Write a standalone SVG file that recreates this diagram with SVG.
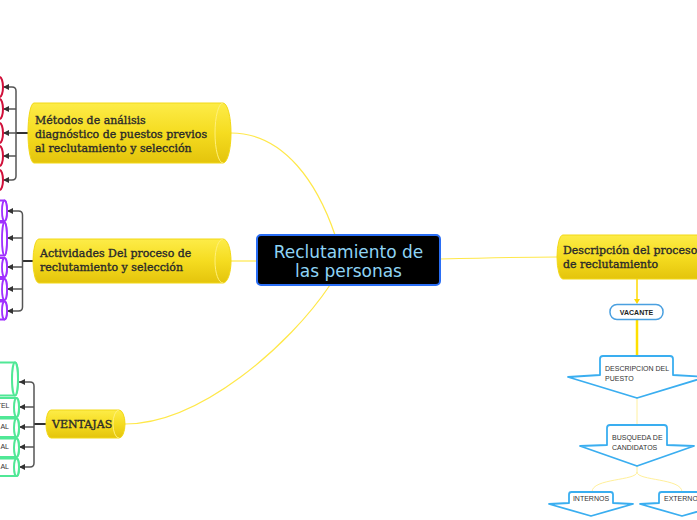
<svg xmlns="http://www.w3.org/2000/svg" width="697" height="520" viewBox="0 0 697 520">
<defs>
<linearGradient id="yg" x1="0" y1="0" x2="0" y2="1">
<stop offset="0" stop-color="#fdec48"/>
<stop offset="0.5" stop-color="#f5dc20"/>
<stop offset="1" stop-color="#e4c40c"/>
</linearGradient>
<marker id="ah" viewBox="0 0 7 7" refX="7" refY="3.5" markerWidth="6" markerHeight="6" markerUnits="userSpaceOnUse" orient="auto">
<path d="M0,0 L7,3.5 L0,7 Z" fill="#333"/>
</marker>
</defs>
<style>
.yn{fill:url(#yg);stroke:#f2d816;stroke-width:1}
.cap{fill:none;stroke:#fff07a;stroke-width:1}
.yt{font-family:"DejaVu Serif","Liberation Serif",serif;font-size:11px;fill:#2a2a2a;stroke:#2a2a2a;stroke-width:0.35}
.br{fill:none;stroke:#555;stroke-width:1.5}
.arr{fill:none;stroke:#555;stroke-width:1.5;marker-end:url(#ah)}
.lk{fill:none;stroke:#333;stroke-width:2}
.yc{fill:none;stroke:#ffe84a;stroke-width:1.2}
.fl{fill:#fff;stroke:#3aaef0;stroke-width:1.8;stroke-linejoin:round}
.ft{font-family:"Liberation Sans","DejaVu Sans",sans-serif;font-size:7px;fill:#333}
.red{fill:#fff;stroke:#d0103a;stroke-width:2}
.pur{fill:#fff;stroke:#a030ff;stroke-width:1.8}
.grn{fill:#fff;stroke:#50e896;stroke-width:2}
</style>

<g id="connectors">
<path class="yc" d="M231,133 C285,133 318,185 335,235"/>
<path class="yc" d="M231,261 H257"/>
<path class="yc" d="M125,424 C200,424 290,345 330,285"/>
<path class="yc" d="M440,259 C480,258 520,257 557,257"/>
<path d="M637,279 V302" fill="none" stroke="#ffd800" stroke-width="1.5"/>
<path d="M634,299 L640,299 L637,304 Z" fill="#ffd800"/>
<path d="M637,319 V356" fill="none" stroke="#ffe000" stroke-width="2.5"/>
<path d="M637,398 V425" fill="none" stroke="#fff0a0" stroke-width="1"/>
<path d="M637,466 V472 C637,481 592,478 592,492" fill="none" stroke="#fff09a" stroke-width="1"/>
<path d="M637,472 C637,481 682,478 682,492" fill="none" stroke="#fff09a" stroke-width="1"/>
<path class="lk" d="M28,133 H16"/>
<path class="br" d="M16,91 V176"/>
<path class="arr" d="M16,91 Q16,87 12,87 H3"/>
<path class="arr" d="M16,109 H3"/>
<path class="arr" d="M16,133 H3"/>
<path class="arr" d="M16,156 H3"/>
<path class="arr" d="M16,176 Q16,180 12,180 H3"/>
<path class="lk" d="M33,261 H22.5"/>
<path class="br" d="M22.5,215 V307"/>
<path class="arr" d="M22.5,215 Q22.5,211 18.5,211 H7"/>
<path class="arr" d="M22.5,238 H7"/>
<path class="arr" d="M22.5,267 H7"/>
<path class="arr" d="M22.5,289 H7"/>
<path class="arr" d="M22.5,307 Q22.5,311 18.5,311 H7"/>
<path class="lk" d="M46,424 H34"/>
<path class="br" d="M34,386 V463"/>
<path class="arr" d="M34,386 Q34,382 30,382 H19"/>
<path class="arr" d="M34,407 H19"/>
<path class="arr" d="M34,427 H19"/>
<path class="arr" d="M34,447 H19"/>
<path class="arr" d="M34,463 Q34,467 30,467 H19"/>
</g>

<g id="central">
<rect x="257" y="235" width="183" height="50" rx="4" fill="#000" stroke="#2a6ef5" stroke-width="2"/>
<text x="348.5" y="258" text-anchor="middle" font-family="DejaVu Sans, sans-serif" font-size="17" fill="#8fd4f5">Reclutamiento de</text>
<text x="348.5" y="277" text-anchor="middle" font-family="DejaVu Sans, sans-serif" font-size="17" fill="#8fd4f5">las personas</text>
</g>

<g id="metodos">
<path class="yn" d="M34,103 H223 A8,30 0 0 1 223,163 H34 A6,30 0 0 1 34,103 Z"/>
<path class="cap" d="M223,103 A8,30 0 0 0 223,163"/>
<text class="yt" x="35" y="124">Métodos de análisis</text>
<text class="yt" x="35" y="138">diagnóstico de puestos previos</text>
<text class="yt" x="35" y="152">al reclutamiento y selección</text>
</g>

<g id="actividades">
<path class="yn" d="M39,239 H223 A8,22 0 0 1 223,283 H39 A6,22 0 0 1 39,239 Z"/>
<path class="cap" d="M223,239 A8,22 0 0 0 223,283"/>
<text class="yt" x="40" y="257">Actividades Del proceso de</text>
<text class="yt" x="40" y="271">reclutamiento y selección</text>
</g>

<g id="ventajas">
<path class="yn" d="M51,410 H119 A6,14 0 0 1 119,438 H51 A5,14 0 0 1 51,410 Z"/>
<path class="cap" d="M119,410 A6,14 0 0 0 119,438"/>
<text class="yt" x="52" y="428">VENTAJAS</text>
</g>

<g id="descripcion-proceso">
<path class="yn" d="M563,235 H760 V279 H563 A6,22 0 0 1 563,235 Z"/>
<text class="yt" x="563" y="254">Descripción del proceso</text>
<text class="yt" x="563" y="268">de reclutamiento</text>
</g>

<g id="metodos-hijos">
<ellipse class="red" cx="-0.5" cy="87" rx="3.5" ry="10"/>
<ellipse class="red" cx="-0.5" cy="109" rx="3.5" ry="10"/>
<ellipse class="red" cx="-0.5" cy="133" rx="3.5" ry="10"/>
<ellipse class="red" cx="-0.5" cy="156" rx="3.5" ry="10"/>
<ellipse class="red" cx="-0.5" cy="180" rx="3.5" ry="10"/>
</g>

<g id="actividades-hijos">
<path class="pur" d="M-10,200.5 H4.5 A2.5,10.25 0 0 1 4.5,221 H-10 Z"/>
<ellipse class="pur" cx="4.5" cy="210.75" rx="2.5" ry="10.25"/>
<path class="pur" d="M-10,222.5 H4.5 A2.5,16.5 0 0 1 4.5,255.5 H-10 Z"/>
<ellipse class="pur" cx="4.5" cy="239" rx="2.5" ry="16.5"/>
<path class="pur" d="M-10,258 H4.5 A2.5,9.5 0 0 1 4.5,277 H-10 Z"/>
<ellipse class="pur" cx="4.5" cy="267.5" rx="2.5" ry="9.5"/>
<path class="pur" d="M-10,279 H4.5 A2.5,10.5 0 0 1 4.5,300 H-10 Z"/>
<ellipse class="pur" cx="4.5" cy="289.5" rx="2.5" ry="10.5"/>
<path class="pur" d="M-10,301.5 H4.5 A2.5,9 0 0 1 4.5,319.5 H-10 Z"/>
<ellipse class="pur" cx="4.5" cy="310.5" rx="2.5" ry="9"/>
</g>

<g id="ventajas-hijos">
<path class="grn" d="M-10,362.5 H15 A3,16.5 0 0 1 15,395.5 H-10 Z"/>
<ellipse class="grn" cx="15" cy="379" rx="3" ry="16.5"/>
<path class="grn" d="M-10,398 H16.5 A2.5,9.5 0 0 1 16.5,417 H-10 Z"/>
<ellipse class="grn" cx="16.5" cy="407.5" rx="2.5" ry="9.5"/>
<path class="grn" d="M-10,418.5 H16.5 A2.5,9.25 0 0 1 16.5,437 H-10 Z"/>
<ellipse class="grn" cx="16.5" cy="427.75" rx="2.5" ry="9.25"/>
<path class="grn" d="M-10,438.5 H16.5 A2.5,9.25 0 0 1 16.5,457 H-10 Z"/>
<ellipse class="grn" cx="16.5" cy="447.75" rx="2.5" ry="9.25"/>
<path class="grn" d="M-10,458.5 H16.5 A2.5,8.75 0 0 1 16.5,476 H-10 Z"/>
<ellipse class="grn" cx="16.5" cy="467.25" rx="2.5" ry="8.75"/>
<text class="ft" x="9.5" y="408" text-anchor="end">TEL</text>
<text class="ft" x="9" y="429" text-anchor="end">AL</text>
<text class="ft" x="9" y="449" text-anchor="end">AL</text>
<text class="ft" x="9" y="469" text-anchor="end">AL</text>
</g>

<g id="vacante">
<rect x="610" y="304.5" width="53" height="15" rx="7" fill="#fff" stroke="#4aa0e0" stroke-width="1.5"/>
<text x="636.5" y="314.5" text-anchor="middle" font-family="Liberation Sans, sans-serif" font-size="7" font-weight="bold" fill="#222">VACANTE</text>
</g>

<g id="descripcion-puesto">
<path class="fl" d="M600,359 Q600,356 603,356 H670 Q673,356 673,359 V375 L706,377 L637,398 L568,377 L600,375 Z"/>
<text class="ft" x="605" y="370.5">DESCRIPCION DEL</text>
<text class="ft" x="605" y="381">PUESTO</text>
</g>

<g id="busqueda">
<path class="fl" d="M607,428 Q607,425 610,425 H664 Q667,425 667,428 V445 L694,446 L637,466 L580,446 L607,445 Z"/>
<text class="ft" x="612" y="439.5">BUSQUEDA DE</text>
<text class="ft" x="612" y="450">CANDIDATOS</text>
</g>

<g id="internos">
<path class="fl" d="M569,494.5 Q569,492 571.5,492 H610.5 Q613,492 613,494.5 V503 L633,504 L591,516 L549,504 L569,503 Z"/>
<text class="ft" x="591" y="501" text-anchor="middle">INTERNOS</text>
</g>

<g id="externos">
<path class="fl" d="M659,494.5 Q659,492 661.5,492 H702.5 Q705,492 705,494.5 V503 L724,504 L682,516 L640,504 L659,503 Z"/>
<text class="ft" x="664" y="501">EXTERNOS</text>
</g>
</svg>
